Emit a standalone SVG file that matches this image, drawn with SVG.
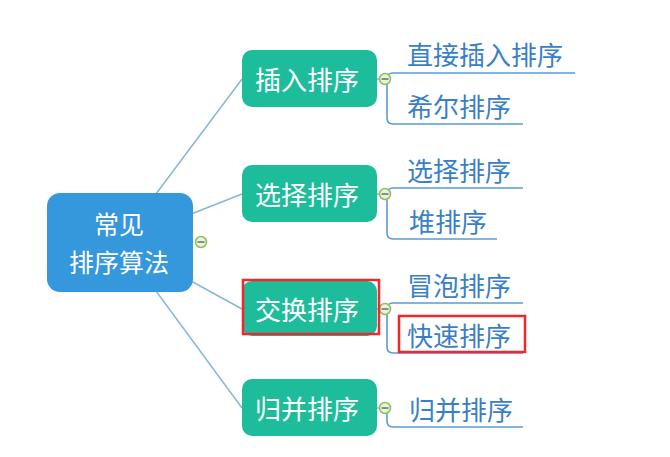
<svg xmlns="http://www.w3.org/2000/svg" width="670" height="457" viewBox="0 0 670 457">
<style>
text{font-family:"Noto Sans CJK SC","Microsoft YaHei",sans-serif;font-size:26px;dominant-baseline:central}
.root{fill:#3598dc}
.node{fill:#1dbd9b}
.nt{fill:#ffffff;text-anchor:middle}
.rt{font-size:25px}
.lt{fill:#3a7fc6}
.conn{stroke:#86b6d9;stroke-width:1.5;fill:none}
.leaf{stroke:#5b9bd5;stroke-width:1.6;fill:none}
.tog{fill:#e9f3df;stroke:#8dc153;stroke-width:1.5}
.minus{stroke:#6b6b6b;stroke-width:1.5}
.hl{fill:none;stroke:#f5262a;stroke-width:2.5}
</style>
<g id="connectors">
<line class="conn" x1="120" y1="242" x2="242" y2="79"/>
<line class="conn" x1="120" y1="242" x2="242" y2="194"/>
<line class="conn" x1="120" y1="242" x2="242" y2="309"/>
<line class="conn" x1="120" y1="242" x2="242" y2="408"/>
<line class="conn" x1="377" y1="79" x2="385" y2="79"/>
<line class="conn" x1="377" y1="194" x2="385" y2="194"/>
<line class="conn" x1="377" y1="309" x2="385" y2="309"/>
<line class="conn" x1="377" y1="408" x2="385" y2="408"/>
<path class="leaf" d="M387 79 Q387 73 393 73 H575 M387 79 V118 Q387 124 393 124 H523"/>
<path class="leaf" d="M387 194 Q387 188 393 188 H523 M387 194 V233 Q387 239 393 239 H497"/>
<path class="leaf" d="M387 309 Q387 303 393 303 H523 M387 309 V347 Q387 353 393 353 H523"/>
<path class="leaf" d="M387 408 V421 Q387 427 393 427 H523"/>
</g>
<g id="root">
<rect class="root" x="47" y="193" width="146" height="99" rx="13"/>
<text class="nt rt" x="119" y="223">常见</text>
<text class="nt rt" x="119" y="261">排序算法</text>
<circle class="tog" cx="201" cy="242" r="5.5"/>
<line class="minus" x1="197.5" y1="242" x2="204.5" y2="242"/>
</g>
<g id="n-insert">
<rect class="node" x="242" y="50" width="135" height="57" rx="10"/>
<text class="nt" x="307" y="78">插入排序</text>
<circle class="tog" cx="385" cy="79" r="5.5"/>
<line class="minus" x1="381.5" y1="79" x2="388.5" y2="79"/>
</g>
<g id="n-select">
<rect class="node" x="242" y="165" width="135" height="57" rx="10"/>
<text class="nt" x="307" y="193">选择排序</text>
<circle class="tog" cx="385" cy="194" r="5.5"/>
<line class="minus" x1="381.5" y1="194" x2="388.5" y2="194"/>
</g>
<g id="n-swap">
<rect class="node" x="242" y="281" width="135" height="55" rx="10"/>
<text class="nt" x="307" y="308">交换排序</text>
<circle class="tog" cx="385" cy="309" r="5.5"/>
<line class="minus" x1="381.5" y1="309" x2="388.5" y2="309"/>
<rect class="hl" x="243" y="280" width="136" height="54"/>
</g>
<g id="n-merge">
<rect class="node" x="242" y="379" width="135" height="57" rx="10"/>
<text class="nt" x="307" y="407">归并排序</text>
<circle class="tog" cx="385" cy="408" r="5.5"/>
<line class="minus" x1="381.5" y1="408" x2="388.5" y2="408"/>
</g>
<g id="leaf-1"><text class="lt" x="407" y="53">直接插入排序</text></g>
<g id="leaf-2"><text class="lt" x="407" y="105">希尔排序</text></g>
<g id="leaf-3"><text class="lt" x="407" y="169">选择排序</text></g>
<g id="leaf-4"><text class="lt" x="409" y="220">堆排序</text></g>
<g id="leaf-5"><text class="lt" x="407" y="284">冒泡排序</text></g>
<g id="leaf-6"><text class="lt" x="407" y="334">快速排序</text><rect class="hl" x="399" y="316" width="126" height="36"/></g>
<g id="leaf-7"><text class="lt" x="409" y="408">归并排序</text></g>
</svg>
